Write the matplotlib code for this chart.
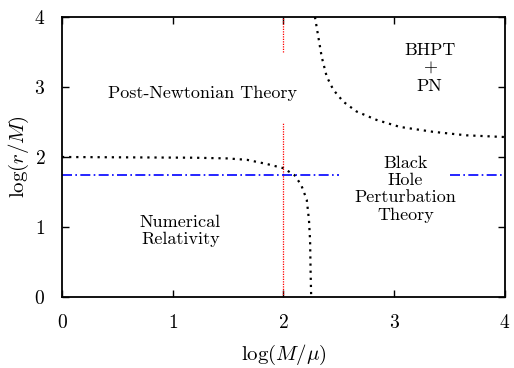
import matplotlib
matplotlib.use("Agg")
import matplotlib.pyplot as plt

plt.rcParams["font.family"] = "serif"
plt.rcParams["font.serif"] = ["cmr10"]
plt.rcParams["mathtext.fontset"] = "cm"
plt.rcParams["axes.formatter.use_mathtext"] = True

# -- data --
# upper-right boundary (BHPT + PN region)
upper_x = [2.284, 2.314, 2.345, 2.39, 2.45, 2.54, 2.66, 2.84, 3.05, 3.35, 3.65, 4.0]
upper_y = [4.0, 3.72, 3.43, 3.15, 2.96, 2.79, 2.65, 2.53, 2.43, 2.36, 2.31, 2.285]

# lower boundary (numerical relativity region)
lower_x = [0.0, 1.19, 1.49, 1.67, 1.85, 2.0, 2.10, 2.16, 2.21, 2.23, 2.24, 2.245, 2.25]
lower_y = [2.0, 1.99, 1.98, 1.96, 1.90, 1.84, 1.74, 1.60, 1.39, 1.10, 0.81, 0.34, 0.0]

isco_y = 1.75
isco_segments = [(0.0, 2.5), (3.5, 4.0)]
mass_x = 2.0
mass_segments = [(0.0, 2.5), (3.5, 4.0)]

fig = plt.figure(figsize=(5.14, 3.68), dpi=100)
ax = fig.add_axes([0.1206, 0.1929, 0.8619, 0.7609])

ax.plot(upper_x, upper_y, color="black", ls=(0, (1, 2.2)), lw=1.6)
ax.plot(lower_x, lower_y, color="black", ls=(0, (1, 2.2)), lw=1.6)

for y0, y1 in mass_segments:
    ax.plot([mass_x, mass_x], [y0, y1], color="red", ls=(0, (1, 1)), lw=0.9)
for x0, x1 in isco_segments:
    ax.plot([x0, x1], [isco_y, isco_y], color="blue", ls=(0, (6, 2, 1, 2)), lw=1.2)

fs = 13
ax.text(1.27, 2.91, "Post-Newtonian Theory", ha="center", va="center", fontsize=fs)
ax.text(3.32, 3.27, "BHPT\n+\nPN", ha="center", va="center", fontsize=fs,
        linespacing=1.2)
ax.text(3.10, 1.54, "Black\nHole\nPerturbation\nTheory", ha="center", va="center",
        fontsize=fs, linespacing=1.15)
ax.text(1.07, 0.94, "Numerical\nRelativity", ha="center", va="center", fontsize=fs,
        linespacing=1.15)

ax.set_xlim(0, 4)
ax.set_ylim(0, 4)
ax.set_xticks([0, 1, 2, 3, 4])
ax.set_yticks([0, 1, 2, 3, 4])
ax.tick_params(direction="in", top=True, right=True, length=5, width=1,
               labelsize=14, pad=12)
for sp in ax.spines.values():
    sp.set_linewidth(1.3)

ax.set_xlabel(r"$\log(M/\mu)$", fontsize=15, labelpad=8)
ax.set_ylabel(r"$\log(r/M)$", fontsize=15, labelpad=2)

plt.savefig("out.png", dpi=100)
